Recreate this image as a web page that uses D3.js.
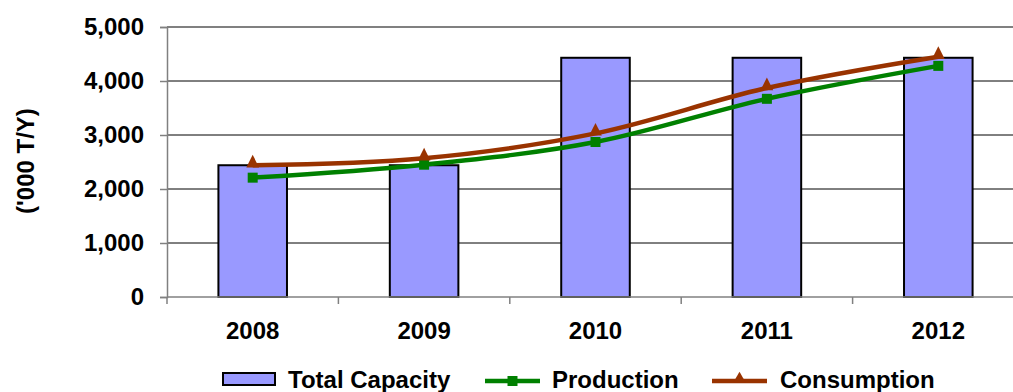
<!DOCTYPE html>
<html>
<head>
<meta charset="utf-8">
<script src="https://cdn.jsdelivr.net/npm/d3@7/dist/d3.min.js"></script>
<style>
  html, body { margin: 0; padding: 0; background: #fff; }
  svg { display: block; }
  text { font-family: "Liberation Sans", Arial, sans-serif; font-weight: bold; fill: #000; }
</style>
</head>
<body>
<svg id="chart" width="1013" height="392"></svg>
<script>
// Capacity, production and consumption, thousand tonnes per year
const years = ["2008", "2009", "2010", "2011", "2012"];
const totalCapacity = [2440, 2440, 4430, 4430, 4430];
const production = [2210, 2450, 2870, 3670, 4280];
const consumption = [2440, 2570, 3030, 3870, 4450];
const yTicks = [0, 1000, 2000, 3000, 4000, 5000];
const yTitle = "('000 T/Y)";
const legendLabels = ["Total Capacity", "Production", "Consumption"];

(function () {
  const svg = d3.select("#chart");
  const plotLeft = 167, plotRight = 1024, plotTop = 27, plotBottom = 297;

  const x = d3.scaleBand().domain(years).range([plotLeft, plotRight]).padding(0);
  const y = d3.scaleLinear().domain([0, 5000]).range([plotBottom, plotTop]);
  const barW = x.bandwidth() * 0.4;
  const cx = d => x(d) + x.bandwidth() / 2;

  const barFill = "#9999ff", prodColor = "#008000", consColor = "#993300", axisGray = "#808080";
  const font = "Liberation Sans, Arial, sans-serif";

  // horizontal gridlines
  svg.append("g").selectAll("line")
    .data(yTicks.filter(v => v > 0 && v < 5000))
    .join("line")
    .attr("x1", plotLeft).attr("x2", plotRight)
    .attr("y1", d => y(d)).attr("y2", d => y(d))
    .attr("stroke", "#000").attr("stroke-width", 1);

  // plot area top border
  svg.append("line")
    .attr("x1", plotLeft).attr("x2", plotRight)
    .attr("y1", y(5000)).attr("y2", y(5000))
    .attr("stroke", axisGray).attr("stroke-width", 2);

  // capacity bars
  svg.append("g").selectAll("rect")
    .data(years)
    .join("rect")
    .attr("x", d => cx(d) - barW / 2)
    .attr("width", barW)
    .attr("y", (d, i) => y(totalCapacity[i]))
    .attr("height", (d, i) => y(0) - y(totalCapacity[i]))
    .attr("fill", barFill)
    .attr("stroke", "#000")
    .attr("stroke-width", 2);

  // y axis
  const yAxis = svg.append("g")
    .attr("transform", `translate(${plotLeft},0)`)
    .call(d3.axisLeft(y).tickValues(yTicks).tickFormat(d3.format(",")).tickSize(7).tickPadding(16));
  yAxis.select(".domain").attr("stroke", axisGray).attr("stroke-width", 1.5);
  yAxis.selectAll(".tick line").attr("stroke", axisGray).attr("stroke-width", 1.5);
  yAxis.selectAll("text").attr("font-size", 24).attr("font-family", font).attr("font-weight", "bold").attr("fill", "#000");

  // x axis line and category boundary ticks
  svg.append("line")
    .attr("x1", plotLeft).attr("x2", plotRight)
    .attr("y1", y(0)).attr("y2", y(0))
    .attr("stroke", axisGray).attr("stroke-width", 1.5);
  svg.append("g").selectAll("line")
    .data(years.map(d => x(d)).concat([x(years[years.length - 1]) + x.step()]))
    .join("line")
    .attr("x1", d => d).attr("x2", d => d)
    .attr("y1", y(0)).attr("y2", y(0) + 7)
    .attr("stroke", axisGray).attr("stroke-width", 1.5);

  const xAxis = svg.append("g")
    .attr("transform", `translate(0,${plotBottom})`)
    .call(d3.axisBottom(x).tickSize(0).tickPadding(25));
  xAxis.select(".domain").remove();
  xAxis.selectAll("text").attr("font-size", 24).attr("font-family", font).attr("font-weight", "bold").attr("fill", "#000");

  // y axis title
  svg.append("text")
    .attr("transform", "translate(34,161) rotate(-90)")
    .attr("text-anchor", "middle")
    .attr("font-size", 24)
    .text(yTitle);

  // smoothed series lines
  const line = d3.line().x((d, i) => cx(years[i])).y(d => y(d)).curve(d3.curveCardinal);
  svg.append("path").datum(production).attr("d", line)
    .attr("fill", "none").attr("stroke", prodColor).attr("stroke-width", 4.5);
  svg.append("path").datum(consumption).attr("d", line)
    .attr("fill", "none").attr("stroke", consColor).attr("stroke-width", 4.5);

  const tri = d3.symbol().type(d3.symbolTriangle).size(70);
  const sq = d3.symbol().type(d3.symbolSquare).size(100);

  svg.append("g").selectAll("path")
    .data(production)
    .join("path")
    .attr("d", sq)
    .attr("transform", (d, i) => `translate(${cx(years[i])},${y(d)})`)
    .attr("fill", prodColor);
  svg.append("g").selectAll("path")
    .data(consumption)
    .join("path")
    .attr("d", tri)
    .attr("transform", (d, i) => `translate(${cx(years[i])},${y(d) - 2}) scale(1,1.15)`)
    .attr("fill", consColor);

  // legend
  const lg = svg.append("g");
  lg.append("rect").attr("x", 223).attr("y", 373).attr("width", 52).attr("height", 12)
    .attr("fill", barFill).attr("stroke", "#000").attr("stroke-width", 2);
  lg.append("text").attr("x", 288).attr("y", 388).attr("font-size", 24).text(legendLabels[0]);

  lg.append("line").attr("x1", 485).attr("x2", 540).attr("y1", 381).attr("y2", 381)
    .attr("stroke", prodColor).attr("stroke-width", 4.5);
  lg.append("path").attr("d", sq).attr("transform", "translate(512.5,381)").attr("fill", prodColor);
  lg.append("text").attr("x", 552).attr("y", 388).attr("font-size", 24).text(legendLabels[1]);

  lg.append("line").attr("x1", 712).attr("x2", 767).attr("y1", 381).attr("y2", 381)
    .attr("stroke", consColor).attr("stroke-width", 4.5);
  lg.append("path").attr("d", tri).attr("transform", "translate(739.5,379)").attr("fill", consColor);
  lg.append("text").attr("x", 780).attr("y", 388).attr("font-size", 24).text(legendLabels[2]);
})();
</script>
</body>
</html>
